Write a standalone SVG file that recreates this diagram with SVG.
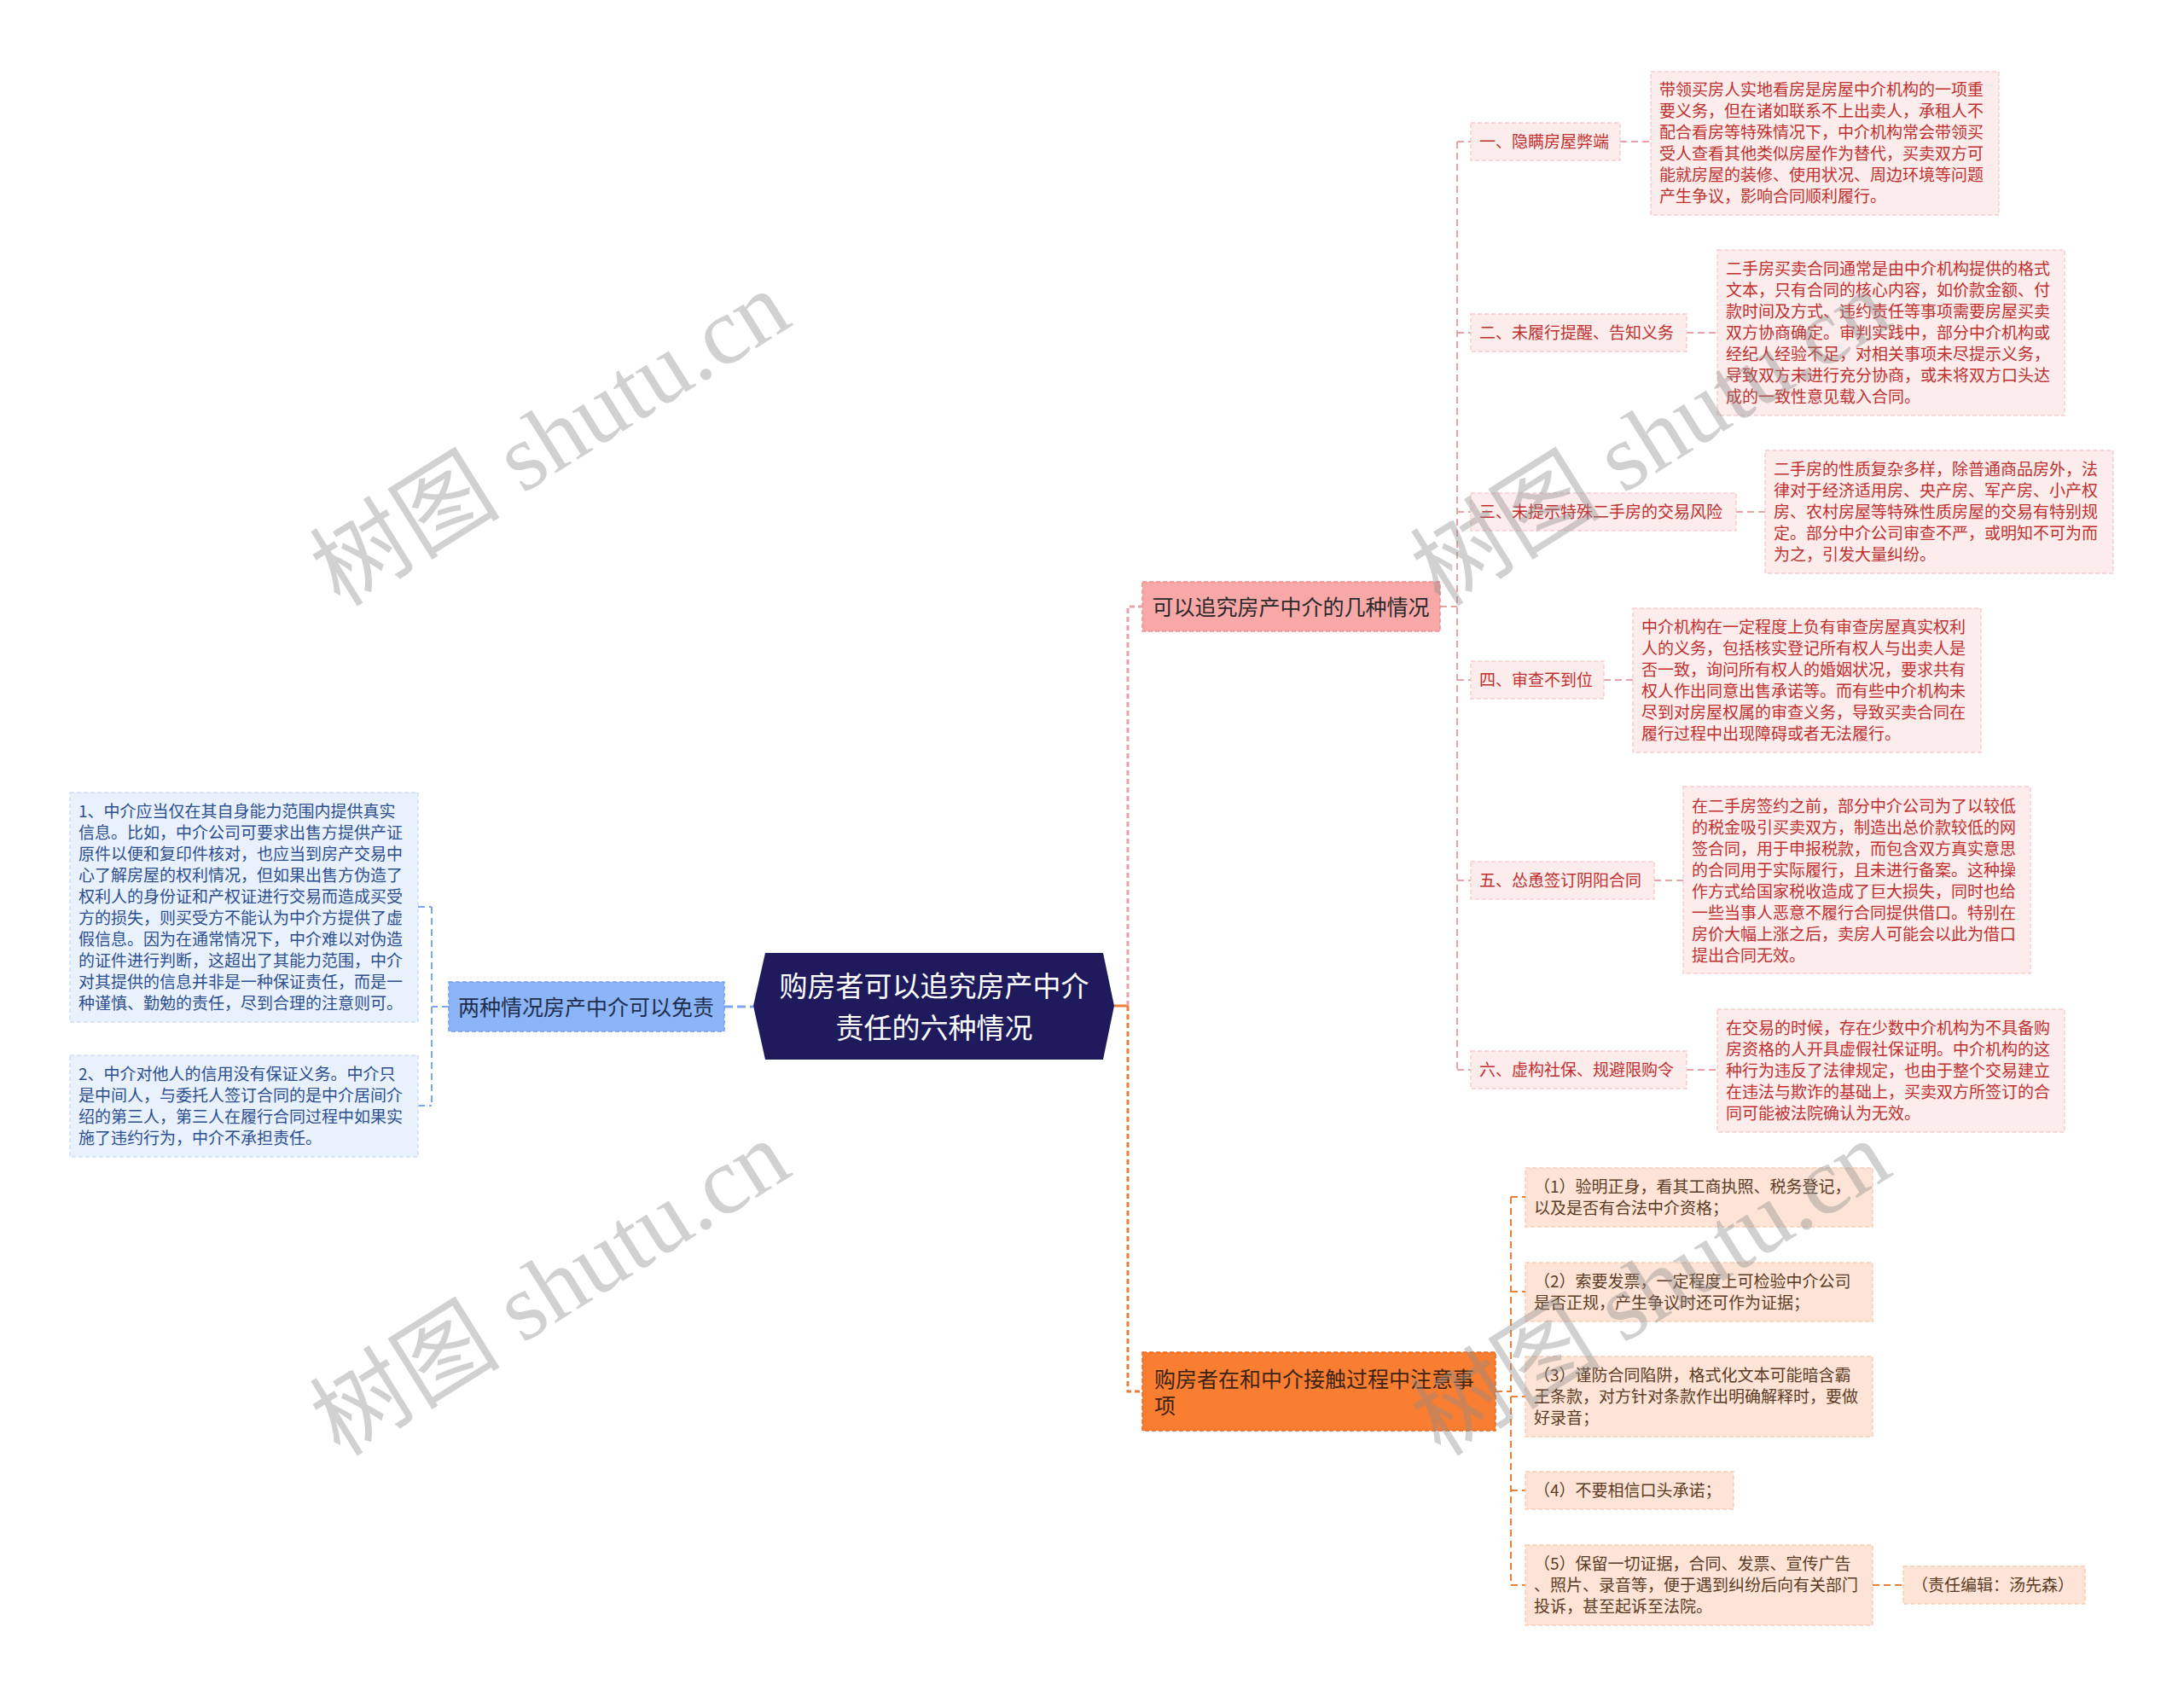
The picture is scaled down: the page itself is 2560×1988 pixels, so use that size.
<svg xmlns="http://www.w3.org/2000/svg" width="2560" height="1988" viewBox="0 0 2560 1988">
<style>
text{font-family:"Noto Sans CJK SC","Noto Sans",sans-serif;}
.t19{font-size:19px;}
.t25{font-size:25px;}
.red{fill:#c0302f;}
.bluet{fill:#2c4f8f;}
.brown{fill:#5c3b25;}
.dark{fill:#2a2a2a;}
.pinkbox{fill:#fdecec;stroke:#f6cccc;stroke-width:1.5;stroke-dasharray:5 3;}
.bluebox{fill:#e9f1fd;stroke:#cfdff8;stroke-width:1.5;stroke-dasharray:5 3;}
.peachbox{fill:#fde4d6;stroke:#f8cdb4;stroke-width:1.5;stroke-dasharray:5 3;}
.cp{fill:none;stroke:#eaa2a8;stroke-width:2;stroke-dasharray:8 5;}
.co{fill:none;stroke:#e8803a;stroke-width:2;stroke-dasharray:8 5;}
.cb{fill:none;stroke:#7aa6f0;stroke-width:2;stroke-dasharray:8 5;}
.wm{font-family:"Liberation Serif","Noto Sans CJK SC",serif;font-size:112px;fill:#8c8c8c;fill-opacity:0.4;}
</style>
<rect width="2560" height="1988" fill="#ffffff"/>

<g id="connectors">
  <line x1="849" y1="1180" x2="883" y2="1180" stroke="#7aa6f0" stroke-width="3" stroke-dasharray="10 5"/>
  <path class="cb" d="M526,1180 H506 M506,1063 V1296 M490,1063 H506 M490,1296 H506"/>
  <line x1="1306" y1="1179" x2="1322" y2="1179" stroke="#e8803a" stroke-width="3"/>
  <path fill="none" stroke="#eaa2a8" stroke-width="3" stroke-dasharray="6 4" d="M1322,1179 V711 H1339"/>
  <path fill="none" stroke="#e8803a" stroke-width="3" stroke-dasharray="6 4" d="M1322,1179 V1631 H1339"/>
  <path class="cp" d="M1688,711 H1708 M1708,166 V1254 M1708,166 H1724 M1708,390 H1724 M1708,600 H1724 M1708,797 H1724 M1708,1032 H1724 M1708,1254 H1724"/>
  <path class="cp" d="M1899,166 H1935 M1977,390 H2013 M2035,600 H2069 M1880,797 H1914 M1939,1032 H1973 M1977,1254 H2013"/>
  <path class="co" d="M1753,1631 H1771 M1771,1403 V1858 M1771,1403 H1788 M1771,1514 H1788 M1771,1637 H1788 M1771,1747 H1788 M1771,1858 H1788 M2195,1858 H2231"/>
</g>

<g id="root">
  <polygon points="897,1117 1293,1117 1306,1179 1293,1242 897,1242 883,1179" fill="#1e1a5b"/>
  <text x="1095" y="1168" font-size="33" fill="#ffffff" text-anchor="middle">购房者可以追究房产中介</text>
  <text x="1095" y="1217" font-size="33" fill="#ffffff" text-anchor="middle">责任的六种情况</text>
</g>

<g id="left-branch">
  <rect x="526" y="1151" width="323" height="58" fill="#8cb5f7" stroke="#6f9ef0" stroke-width="1.5" stroke-dasharray="5 3"/>
  <text x="687" y="1189.5" class="t25" fill="#1f2d4d" text-anchor="middle">两种情况房产中介可以免责</text>
</g>
<g id="left-1">
  <rect class="bluebox" x="82" y="929" width="408" height="269"/>
  <text class="t19 bluet">
    <tspan x="92" y="957.7">1、中介应当仅在其自身能力范围内提供真实</tspan>
    <tspan x="92" y="982.7">信息。比如，中介公司可要求出售方提供产证</tspan>
    <tspan x="92" y="1007.7">原件以便和复印件核对，也应当到房产交易中</tspan>
    <tspan x="92" y="1032.7">心了解房屋的权利情况，但如果出售方伪造了</tspan>
    <tspan x="92" y="1057.7">权利人的身份证和产权证进行交易而造成买受</tspan>
    <tspan x="92" y="1082.7">方的损失，则买受方不能认为中介方提供了虚</tspan>
    <tspan x="92" y="1107.7">假信息。因为在通常情况下，中介难以对伪造</tspan>
    <tspan x="92" y="1132.7">的证件进行判断，这超出了其能力范围，中介</tspan>
    <tspan x="92" y="1157.7">对其提供的信息并非是一种保证责任，而是一</tspan>
    <tspan x="92" y="1182.7">种谨慎、勤勉的责任，尽到合理的注意则可。</tspan>
  </text>
</g>
<g id="left-2">
  <rect class="bluebox" x="82" y="1237" width="408" height="119"/>
  <text class="t19 bluet">
    <tspan x="92" y="1265.7">2、中介对他人的信用没有保证义务。中介只</tspan>
    <tspan x="92" y="1290.7">是中间人，与委托人签订合同的是中介居间介</tspan>
    <tspan x="92" y="1315.7">绍的第三人，第三人在履行合同过程中如果实</tspan>
    <tspan x="92" y="1340.7">施了违约行为，中介不承担责任。</tspan>
  </text>
</g>

<g id="pink-branch">
  <rect x="1339" y="682" width="349" height="58" fill="#f9a8a8" stroke="#f08f8f" stroke-width="1.5" stroke-dasharray="5 3"/>
  <text x="1513" y="720.5" class="t25 dark" text-anchor="middle">可以追究房产中介的几种情况</text>
</g>

<g id="p1">
  <rect class="pinkbox" x="1724" y="144" width="175" height="44"/>
  <text x="1734" y="173.2" class="t19 red">一、隐瞒房屋弊端</text>
</g>
<g id="p1d">
  <rect class="pinkbox" x="1935" y="84" width="408" height="168"/>
  <text class="t19 red">
    <tspan x="1945" y="112.2">带领买房人实地看房是房屋中介机构的一项重</tspan>
    <tspan x="1945" y="137.2">要义务，但在诸如联系不上出卖人，承租人不</tspan>
    <tspan x="1945" y="162.2">配合看房等特殊情况下，中介机构常会带领买</tspan>
    <tspan x="1945" y="187.2">受人查看其他类似房屋作为替代，买卖双方可</tspan>
    <tspan x="1945" y="212.2">能就房屋的装修、使用状况、周边环境等问题</tspan>
    <tspan x="1945" y="237.2">产生争议，影响合同顺利履行。</tspan>
  </text>
</g>

<g id="p2">
  <rect class="pinkbox" x="1724" y="368" width="253" height="44"/>
  <text x="1734" y="397.2" class="t19 red">二、未履行提醒、告知义务</text>
</g>
<g id="p2d">
  <rect class="pinkbox" x="2013" y="293" width="407" height="194"/>
  <text class="t19 red">
    <tspan x="2023" y="322.2">二手房买卖合同通常是由中介机构提供的格式</tspan>
    <tspan x="2023" y="347.2">文本，只有合同的核心内容，如价款金额、付</tspan>
    <tspan x="2023" y="372.2">款时间及方式、违约责任等事项需要房屋买卖</tspan>
    <tspan x="2023" y="397.2">双方协商确定。审判实践中，部分中介机构或</tspan>
    <tspan x="2023" y="422.2">经纪人经验不足，对相关事项未尽提示义务，</tspan>
    <tspan x="2023" y="447.2">导致双方未进行充分协商，或未将双方口头达</tspan>
    <tspan x="2023" y="472.2">成的一致性意见载入合同。</tspan>
  </text>
</g>

<g id="p3">
  <rect class="pinkbox" x="1724" y="578" width="311" height="44"/>
  <text x="1734" y="607.2" class="t19 red">三、未提示特殊二手房的交易风险</text>
</g>
<g id="p3d">
  <rect class="pinkbox" x="2069" y="528" width="408" height="144"/>
  <text class="t19 red">
    <tspan x="2079" y="557.2">二手房的性质复杂多样，除普通商品房外，法</tspan>
    <tspan x="2079" y="582.2">律对于经济适用房、央产房、军产房、小产权</tspan>
    <tspan x="2079" y="607.2">房、农村房屋等特殊性质房屋的交易有特别规</tspan>
    <tspan x="2079" y="632.2">定。部分中介公司审查不严，或明知不可为而</tspan>
    <tspan x="2079" y="657.2">为之，引发大量纠纷。</tspan>
  </text>
</g>

<g id="p4">
  <rect class="pinkbox" x="1724" y="775" width="156" height="44"/>
  <text x="1734" y="804.2" class="t19 red">四、审查不到位</text>
</g>
<g id="p4d">
  <rect class="pinkbox" x="1914" y="713" width="408" height="169"/>
  <text class="t19 red">
    <tspan x="1924" y="742.2">中介机构在一定程度上负有审查房屋真实权利</tspan>
    <tspan x="1924" y="767.2">人的义务，包括核实登记所有权人与出卖人是</tspan>
    <tspan x="1924" y="792.2">否一致，询问所有权人的婚姻状况，要求共有</tspan>
    <tspan x="1924" y="817.2">权人作出同意出售承诺等。而有些中介机构未</tspan>
    <tspan x="1924" y="842.2">尽到对房屋权属的审查义务，导致买卖合同在</tspan>
    <tspan x="1924" y="867.2">履行过程中出现障碍或者无法履行。</tspan>
  </text>
</g>

<g id="p5">
  <rect class="pinkbox" x="1724" y="1010" width="215" height="44"/>
  <text x="1734" y="1039.2" class="t19 red">五、怂恿签订阴阳合同</text>
</g>
<g id="p5d">
  <rect class="pinkbox" x="1973" y="922" width="407" height="219"/>
  <text class="t19 red">
    <tspan x="1983" y="951.7">在二手房签约之前，部分中介公司为了以较低</tspan>
    <tspan x="1983" y="976.7">的税金吸引买卖双方，制造出总价款较低的网</tspan>
    <tspan x="1983" y="1001.7">签合同，用于申报税款，而包含双方真实意思</tspan>
    <tspan x="1983" y="1026.7">的合同用于实际履行，且未进行备案。这种操</tspan>
    <tspan x="1983" y="1051.7">作方式给国家税收造成了巨大损失，同时也给</tspan>
    <tspan x="1983" y="1076.7">一些当事人恶意不履行合同提供借口。特别在</tspan>
    <tspan x="1983" y="1101.7">房价大幅上涨之后，卖房人可能会以此为借口</tspan>
    <tspan x="1983" y="1126.7">提出合同无效。</tspan>
  </text>
</g>

<g id="p6">
  <rect class="pinkbox" x="1724" y="1232" width="253" height="44"/>
  <text x="1734" y="1261.2" class="t19 red">六、虚构社保、规避限购令</text>
</g>
<g id="p6d">
  <rect class="pinkbox" x="2013" y="1183" width="407" height="144"/>
  <text class="t19 red">
    <tspan x="2023" y="1212.2">在交易的时候，存在少数中介机构为不具备购</tspan>
    <tspan x="2023" y="1237.2">房资格的人开具虚假社保证明。中介机构的这</tspan>
    <tspan x="2023" y="1262.2">种行为违反了法律规定，也由于整个交易建立</tspan>
    <tspan x="2023" y="1287.2">在违法与欺诈的基础上，买卖双方所签订的合</tspan>
    <tspan x="2023" y="1312.2">同可能被法院确认为无效。</tspan>
  </text>
</g>

<g id="orange-branch">
  <rect x="1339" y="1585" width="414" height="92" fill="#fa7e32" stroke="#e86a1f" stroke-width="1.5" stroke-dasharray="5 3"/>
  <text class="t25" fill="#3d2412">
    <tspan x="1353" y="1625.5">购房者在和中介接触过程中注意事</tspan>
    <tspan x="1353" y="1656.5">项</tspan>
  </text>
</g>
<g id="o1">
  <rect class="peachbox" x="1788" y="1369" width="407" height="69"/>
  <text class="t19 brown">
    <tspan x="1798" y="1398">（1）验明正身，看其工商执照、税务登记，</tspan>
    <tspan x="1798" y="1423">以及是否有合法中介资格；</tspan>
  </text>
</g>
<g id="o2">
  <rect class="peachbox" x="1788" y="1480" width="407" height="69"/>
  <text class="t19 brown">
    <tspan x="1798" y="1509">（2）索要发票，一定程度上可检验中介公司</tspan>
    <tspan x="1798" y="1534">是否正规，产生争议时还可作为证据；</tspan>
  </text>
</g>
<g id="o3">
  <rect class="peachbox" x="1788" y="1590" width="407" height="94"/>
  <text class="t19 brown">
    <tspan x="1798" y="1619.2">（3）谨防合同陷阱，格式化文本可能暗含霸</tspan>
    <tspan x="1798" y="1644.2">王条款，对方针对条款作出明确解释时，要做</tspan>
    <tspan x="1798" y="1669.2">好录音；</tspan>
  </text>
</g>
<g id="o4">
  <rect class="peachbox" x="1788" y="1725" width="244" height="44"/>
  <text x="1798" y="1754.2" class="t19 brown">（4）不要相信口头承诺；</text>
</g>
<g id="o5">
  <rect class="peachbox" x="1788" y="1811" width="407" height="94"/>
  <text class="t19 brown">
    <tspan x="1798" y="1840.2">（5）保留一切证据，合同、发票、宣传广告</tspan>
    <tspan x="1798" y="1865.2">、照片、录音等，便于遇到纠纷后向有关部门</tspan>
    <tspan x="1798" y="1890.2">投诉，甚至起诉至法院。</tspan>
  </text>
</g>
<g id="o5n">
  <rect class="peachbox" x="2231" y="1836" width="213" height="44"/>
  <text x="2241" y="1865.2" class="t19 brown">（责任编辑：汤先森）</text>
</g>

<g id="watermarks">
  <text class="wm" x="645" y="514" text-anchor="middle" dominant-baseline="central" transform="rotate(-32 645 514)">树图 shutu.cn</text>
  <text class="wm" x="645" y="1510" text-anchor="middle" dominant-baseline="central" transform="rotate(-32 645 1510)">树图 shutu.cn</text>
  <text class="wm" x="1935" y="514" text-anchor="middle" dominant-baseline="central" transform="rotate(-32 1935 514)">树图 shutu.cn</text>
  <text class="wm" x="1935" y="1510" text-anchor="middle" dominant-baseline="central" transform="rotate(-32 1935 1510)">树图 shutu.cn</text>
</g>
</svg>
